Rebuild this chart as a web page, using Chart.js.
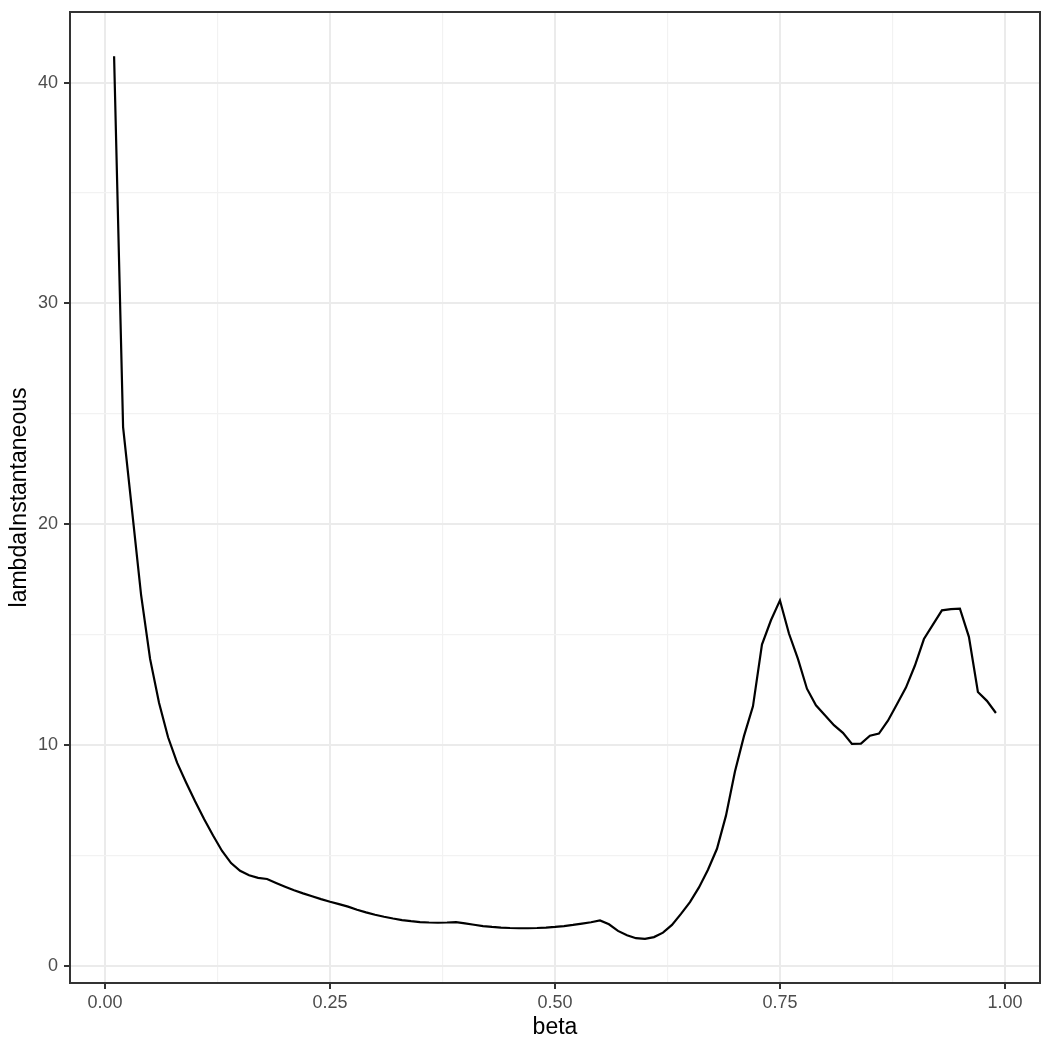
<!DOCTYPE html>
<html>
<head>
<meta charset="utf-8">
<script src="https://cdn.jsdelivr.net/npm/chart.js@4/dist/chart.umd.min.js"></script>
<style>
  html, body { margin: 0; padding: 0; background: #ffffff; }
  #wrap { width: 1050px; height: 1050px; }
</style>
</head>
<body>
<div id="wrap"><canvas id="c" width="1050" height="1050"></canvas></div>
<script>
const beta = [
  0.01,0.02,0.03,0.04,0.05,0.06,0.07,0.08,0.09,0.10,
  0.11,0.12,0.13,0.14,0.15,0.16,0.17,0.18,0.19,0.20,
  0.21,0.22,0.23,0.24,0.25,0.26,0.27,0.28,0.29,0.30,
  0.31,0.32,0.33,0.34,0.35,0.36,0.37,0.38,0.39,0.40,
  0.41,0.42,0.43,0.44,0.45,0.46,0.47,0.48,0.49,0.50,
  0.51,0.52,0.53,0.54,0.55,0.56,0.57,0.58,0.59,0.60,
  0.61,0.62,0.63,0.64,0.65,0.66,0.67,0.68,0.69,0.70,
  0.71,0.72,0.73,0.74,0.75,0.76,0.77,0.78,0.79,0.80,
  0.81,0.82,0.83,0.84,0.85,0.86,0.87,0.88,0.89,0.90,
  0.91,0.92,0.93,0.94,0.95,0.96,0.97,0.98,0.99
];
const lambdaInstantaneous = [
  41.2,24.4,20.6,16.8,13.9,11.9,10.35,9.2,8.3,7.45,
  6.65,5.9,5.2,4.65,4.3,4.1,3.98,3.93,3.75,3.58,
  3.42,3.28,3.15,3.02,2.9,2.79,2.68,2.54,2.42,2.31,
  2.22,2.14,2.07,2.02,1.98,1.96,1.95,1.96,1.98,1.92,
  1.86,1.80,1.76,1.73,1.71,1.70,1.70,1.71,1.73,1.76,
  1.80,1.85,1.91,1.97,2.05,1.88,1.58,1.38,1.25,1.22,
  1.30,1.50,1.85,2.35,2.88,3.55,4.35,5.3,6.8,8.8,
  10.4,11.75,14.55,15.65,16.55,15.05,13.9,12.55,11.8,11.35,
  10.9,10.55,10.05,10.06,10.42,10.52,11.1,11.85,12.6,13.6,
  14.8,15.45,16.1,16.15,16.18,14.9,12.4,12.0,11.45
];
const xMajorTicks = [0, 0.25, 0.5, 0.75, 1.0];
const xMinorTicks = [0.125, 0.375, 0.625, 0.875];
const yMajorTicks = [0, 10, 20, 30, 40];
const yMinorTicks = [5, 15, 25, 35];
const xTitle = 'beta';
const yTitle = 'lambdaInstantaneous';

const points = beta.map((b, i) => ({ x: b, y: lambdaInstantaneous[i] }));

function isMajor(list, v) { return list.some(t => Math.abs(t - v) < 1e-9); }

const panelBorder = {
  id: 'panelBorder',
  afterDraw(chart) {
    const { ctx, chartArea: a } = chart;
    ctx.save();
    ctx.strokeStyle = '#333333';
    ctx.lineWidth = 2;
    ctx.strokeRect(a.left, a.top, a.right - a.left, a.bottom - a.top);
    ctx.restore();
  }
};

const tickFont = { family: '"Liberation Sans", Arial, sans-serif', size: 18 };
const titleFont = { family: '"Liberation Sans", Arial, sans-serif', size: 23 };

new Chart(document.getElementById('c'), {
  type: 'line',
  data: {
    datasets: [{
      data: points,
      borderColor: '#000000',
      borderWidth: 2.2,
      pointRadius: 0,
      fill: false,
      tension: 0
    }]
  },
  options: {
    responsive: false,
    animation: false,
    layout: { padding: { top: 12, right: 10, left: 0, bottom: 0 } },
    plugins: { legend: { display: false }, tooltip: { enabled: false } },
    scales: {
      x: {
        type: 'linear',
        min: -0.039,
        max: 1.039,
        afterBuildTicks: s => { s.ticks = xMinorTicks.concat(xMajorTicks).sort((a, b) => a - b).map(v => ({ value: v })); },
        afterFit: s => { s.height = 67; s.paddingLeft = 0; s.paddingRight = 0; },
        grid: {
          color: c => isMajor(xMajorTicks, c.tick.value) ? '#EBEBEB' : '#F2F2F2',
          lineWidth: c => isMajor(xMajorTicks, c.tick.value) ? 2 : 1.2,
          tickColor: c => isMajor(xMajorTicks, c.tick.value) ? '#333333' : 'rgba(0,0,0,0)',
          tickWidth: 2,
          tickLength: 6
        },
        border: { display: false },
        ticks: {
          autoSkip: false,
          maxRotation: 0,
          padding: 3,
          color: '#4D4D4D',
          font: tickFont,
          callback: v => isMajor(xMajorTicks, v) ? Number(v).toFixed(2) : ''
        },
        title: { display: true, text: xTitle, color: '#000000', font: titleFont, padding: { top: 0, bottom: 9 } }
      },
      y: {
        type: 'linear',
        min: -0.78,
        max: 43.2,
        afterBuildTicks: s => { s.ticks = yMinorTicks.concat(yMajorTicks).sort((a, b) => a - b).map(v => ({ value: v })); },
        afterFit: s => { s.width = 70; s.paddingTop = 0; s.paddingBottom = 0; },
        grid: {
          color: c => isMajor(yMajorTicks, c.tick.value) ? '#EBEBEB' : '#F2F2F2',
          lineWidth: c => isMajor(yMajorTicks, c.tick.value) ? 2 : 1.2,
          tickColor: c => isMajor(yMajorTicks, c.tick.value) ? '#333333' : 'rgba(0,0,0,0)',
          tickWidth: 2,
          tickLength: 6
        },
        border: { display: false },
        ticks: {
          autoSkip: false,
          padding: 6,
          color: '#4D4D4D',
          font: tickFont,
          callback: v => isMajor(yMajorTicks, v) ? String(v) : ''
        },
        title: { display: true, text: yTitle, color: '#000000', font: titleFont, padding: { top: 6, bottom: 0 } }
      }
    }
  },
  plugins: [panelBorder]
});
</script>
</body>
</html>
